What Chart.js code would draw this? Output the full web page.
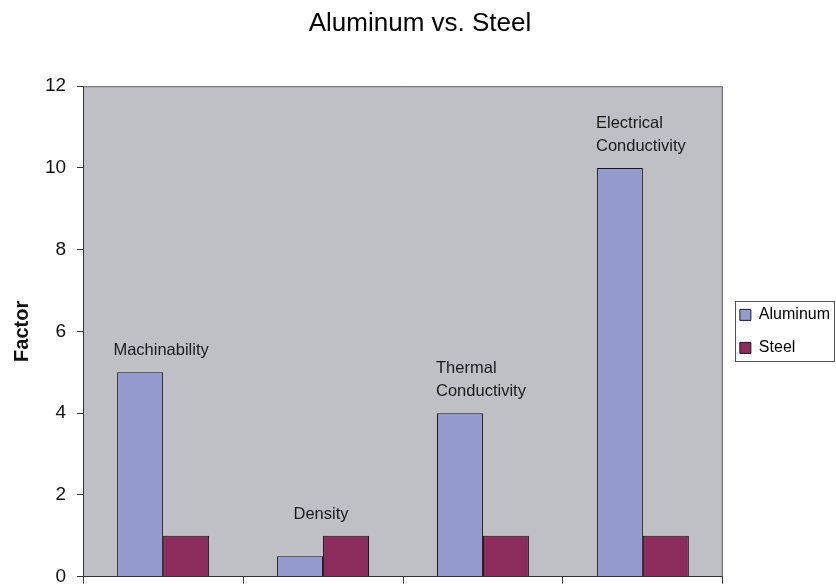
<!DOCTYPE html>
<html>
<head>
<meta charset="utf-8">
<script src="https://cdn.jsdelivr.net/npm/chart.js@4.4.0/dist/chart.umd.min.js"></script>
<style>
  html, body { margin: 0; padding: 0; background: #fff; overflow: hidden; }
</style>
</head>
<body>
<canvas id="chart" width="836" height="599"></canvas>
<script>
// category names are drawn above the bars inside the plot
const categories = [['Machinability'], ['Density'], ['Thermal', 'Conductivity'], ['Electrical', 'Conductivity']];
const aluminum = [5, 0.5, 4, 10];
const steel = [1, 1, 1, 1];
const yTicks = [0, 2, 4, 6, 8, 10, 12];

Chart.defaults.font.family = '"Liberation Sans", Arial, Helvetica, sans-serif';
Chart.defaults.color = '#111';

// gray plot area with a frame on the top and right
const plotFrame = {
    id: 'plotFrame',
    beforeDraw(chart) {
        const { ctx, chartArea: a } = chart;
        ctx.save();
        ctx.fillStyle = '#bfc0c5';
        ctx.fillRect(a.left, a.top, a.right - a.left, a.bottom - a.top);
        ctx.restore();
    },
    afterDatasetsDraw(chart) {
        const { ctx, chartArea: a } = chart;
        ctx.save();
        ctx.strokeStyle = '#666';
        ctx.lineWidth = 1;
        ctx.beginPath();
        ctx.moveTo(a.left, a.top + 0.5);
        ctx.lineTo(a.right - 0.5, a.top + 0.5);
        ctx.lineTo(a.right - 0.5, a.bottom);
        ctx.stroke();
        ctx.restore();
    }
};

const categoryNotes = {
    id: 'categoryNotes',
    afterDatasetsDraw(chart) {
        const { ctx, scales: { x, y } } = chart;
        ctx.save();
        ctx.font = '16.5px "Liberation Sans", Arial, sans-serif';
        ctx.fillStyle = '#1a1a1a';
        ctx.textAlign = 'left';
        ctx.textBaseline = 'alphabetic';
        categories.forEach((lines, i) => {
            const top = y.getPixelForValue(Math.max(aluminum[i], steel[i]));
            const w = Math.max(...lines.map(l => ctx.measureText(l).width));
            const left = x.getPixelForValue(i) - w / 2 - 2;
            lines.forEach((line, j) => {
                ctx.fillText(line, left, top - 17 - (lines.length - 1 - j) * 23);
            });
        });
        ctx.restore();
    }
};

const legendBorder = {
    id: 'legendBorder',
    afterDraw(chart) {
        const boxes = chart.legend.legendHitBoxes;
        if (!boxes || !boxes.length) return;
        const left = Math.min(...boxes.map(b => b.left)) - 5;
        const top = Math.min(...boxes.map(b => b.top)) - 6;
        const right = Math.min(Math.max(...boxes.map(b => b.left + b.width)) + 5, 834);
        const bottom = Math.max(...boxes.map(b => b.top + b.height)) + 5;
        const ctx = chart.ctx;
        ctx.save();
        ctx.strokeStyle = '#555';
        ctx.lineWidth = 1;
        ctx.strokeRect(Math.round(left) + 0.5, Math.round(top) + 0.5, Math.round(right - left), Math.round(bottom - top));
        ctx.restore();
    }
};

new Chart(document.getElementById('chart').getContext('2d'), {
    type: 'bar',
    data: {
        labels: categories,
        datasets: [{
            label: 'Aluminum',
            data: aluminum,
            backgroundColor: '#9499ce',
            borderColor: '#1a1a1a',
            borderWidth: 1,
            borderSkipped: 'bottom'
        }, {
            label: 'Steel',
            data: steel,
            backgroundColor: '#8c2c5c',
            borderColor: '#1a1a1a',
            borderWidth: 1,
            borderSkipped: 'bottom'
        }]
    },
    options: {
        responsive: false,
        animation: false,
        categoryPercentage: 0.575,
        barPercentage: 1.0,
        layout: { padding: { left: 0, right: -4, top: 0, bottom: 0 } },
        plugins: {
            title: {
                display: true,
                text: 'Aluminum vs. Steel',
                color: '#000',
                font: { size: 26, weight: 'normal' },
                padding: { top: 8, bottom: 47 }
            },
            legend: {
                position: 'right',
                fullSize: false,
                labels: {
                    boxWidth: 11,
                    boxHeight: 11,
                    padding: 17,
                    color: '#000',
                    font: { size: 16 }
                }
            },
            tooltip: { enabled: false }
        },
        scales: {
            x: {
                ticks: { display: false },
                grid: { drawOnChartArea: false, offset: true, tickLength: 7, color: '#333' },
                border: { color: '#333' }
            },
            y: {
                min: yTicks[0],
                max: yTicks[yTicks.length - 1],
                ticks: { stepSize: yTicks[1] - yTicks[0], padding: 11, color: '#111', font: { size: 19 } },
                grid: { drawOnChartArea: false, tickLength: 6, color: '#333' },
                border: { color: '#333' },
                title: {
                    display: true,
                    text: 'Factor',
                    color: '#111',
                    font: { size: 20, weight: 'bold' },
                    padding: { top: 10, bottom: 0 }
                }
            }
        }
    },
    plugins: [plotFrame, categoryNotes, legendBorder]
});
</script>
</body>
</html>
